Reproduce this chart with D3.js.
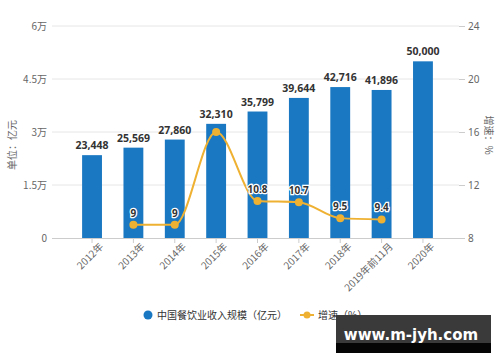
<!DOCTYPE html>
<html>
<head>
<meta charset="utf-8">
<script src="https://cdn.jsdelivr.net/npm/d3@7"></script>
<style>
  body { margin: 0; background: #fff; }
  svg text { font-family: "Noto Sans CJK SC", "Noto Sans", sans-serif; }
</style>
</head>
<body>
<svg id="chart" width="500" height="362"></svg>
<script>
const categories = ["2012年", "2013年", "2014年", "2015年", "2016年", "2017年", "2018年", "2019年前11月", "2020年"];
const revenue = [23448, 25569, 27860, 32310, 35799, 39644, 42716, 41896, 50000];
// growth has no value for 2012 / 2020
const growth = [null, 9, 9, 16, 10.8, 10.7, 9.5, 9.4, null];
const growthLabels = [null, "9", "9", null, "10.8", "10.7", "9.5", "9.4", null];
const leftTicks = [0, 15000, 30000, 45000, 60000];
const leftTickText = ["0", "1.5万", "3万", "4.5万", "6万"];
const rightTicks = [8, 12, 16, 20, 24];

const barColor = "#1a78c2";
const lineColor = "#efb132";

const svg = d3.select("#chart");
const plot = {left: 52, right: 459, top: 26, bottom: 238};

const x = d3.scaleBand().domain(categories).range([60.6, 454.4]).padding(0.52);
const yL = d3.scaleLinear().domain([0, 60000]).range([plot.bottom, plot.top]);
const yR = d3.scaleLinear().domain([8, 24]).range([plot.bottom, plot.top]);

// gridlines
svg.append("g").selectAll("line").data(leftTicks.slice(1)).enter().append("line")
    .attr("x1", plot.left).attr("x2", plot.right)
    .attr("y1", d => yL(d)).attr("y2", d => yL(d))
    .attr("stroke", "#e6e6e6").attr("stroke-width", 1);

// left axis labels
svg.append("g").selectAll("text").data(leftTicks).enter().append("text")
    .attr("x", 47).attr("y", d => yL(d) + 4)
    .attr("text-anchor", "end").attr("font-size", 10).attr("fill", "#666")
    .text((d, i) => leftTickText[i]);

// right axis
let rAxis = d3.axisRight(yR).tickValues(rightTicks).tickSize(6).tickPadding(3);
svg.append("g").attr("transform", `translate(${plot.right},0)`)
    .call(rAxis)
    .call(g => g.select(".domain").remove())
    .call(g => g.selectAll("line").attr("stroke", "#ccc"))
    .call(g => g.selectAll("text").attr("fill", "#666").attr("font-size", 10)
        .style("font-family", "'Noto Sans', sans-serif"));

// axis titles
svg.append("text").attr("transform", "translate(16,145) rotate(-90)")
    .attr("text-anchor", "middle").attr("font-size", 10).attr("fill", "#666").text("单位：亿元");
svg.append("text").attr("transform", "translate(485,135) rotate(90)")
    .attr("text-anchor", "middle").attr("font-size", 10).attr("fill", "#666").text("增速：%");

// bars
svg.append("g").selectAll("rect").data(revenue).enter().append("rect")
    .attr("x", (d, i) => x(categories[i]))
    .attr("y", d => yL(d))
    .attr("width", x.bandwidth())
    .attr("height", d => plot.bottom - yL(d))
    .attr("fill", barColor);

// bar labels
svg.append("g").selectAll("text").data(revenue).enter().append("text")
    .attr("x", (d, i) => x(categories[i]) + x.bandwidth() / 2)
    .attr("y", d => yL(d) - 6)
    .attr("text-anchor", "middle").attr("font-size", 10.5).attr("font-weight", "bold")
    .attr("fill", "#333").style("font-family", "'Noto Sans', sans-serif")
    .text(d => d3.format(",")(d));

// bottom axis
let xAxis = d3.axisBottom(x).tickSize(5).tickPadding(4);
svg.append("g").attr("transform", `translate(0,${plot.bottom})`)
    .call(xAxis)
    .call(g => g.select(".domain").attr("d", `M${plot.left},0.5H${plot.right}`).attr("stroke", "#ccc"))
    .call(g => g.selectAll(".tick line").attr("stroke", "#ccc"))
    .call(g => g.selectAll("text")
        .attr("fill", "#666").attr("font-size", 10)
        .attr("text-anchor", "end")
        .attr("dx", "0.2em").attr("dy", "0.6em")
        .attr("transform", "rotate(-45)"));

// growth line
const pts = growth.map((d, i) => ({v: d, c: categories[i], l: growthLabels[i]})).filter(d => d.v !== null);
const line = d3.line()
    .x(d => x(d.c) + x.bandwidth() / 2)
    .y(d => yR(d.v))
    .curve(d3.curveMonotoneX);
svg.append("path").datum(pts).attr("d", line)
    .attr("fill", "none").attr("stroke", lineColor).attr("stroke-width", 2);
svg.append("g").selectAll("circle").data(pts).enter().append("circle")
    .attr("cx", d => x(d.c) + x.bandwidth() / 2).attr("cy", d => yR(d.v))
    .attr("r", 4).attr("fill", lineColor);

let gl = svg.append("g").selectAll("text").data(pts.filter(d => d.l)).enter().append("text")
    .attr("x", d => x(d.c) + x.bandwidth() / 2)
    .attr("y", d => yR(d.v) - 8)
    .attr("text-anchor", "middle").attr("font-size", 10).attr("font-weight", "bold")
    .style("font-family", "'Noto Sans', sans-serif")
    .attr("fill", "#333").attr("stroke", "#fff").attr("stroke-width", 2.5)
    .attr("paint-order", "stroke")
    .text(d => d.l);

// legend
const legend = svg.append("g");
legend.append("circle").attr("cx", 148).attr("cy", 315).attr("r", 4.5).attr("fill", barColor);
legend.append("text").attr("x", 157).attr("y", 319).attr("font-size", 10).attr("fill", "#333")
    .text("中国餐饮业收入规模（亿元）");
legend.append("line").attr("x1", 300).attr("x2", 314).attr("y1", 315).attr("y2", 315)
    .attr("stroke", lineColor).attr("stroke-width", 2);
legend.append("circle").attr("cx", 307).attr("cy", 315).attr("r", 3.5).attr("fill", lineColor);
legend.append("text").attr("x", 318).attr("y", 319).attr("font-size", 10).attr("fill", "#333")
    .text("增速（%）");

// source overlay
svg.append("text").attr("x", 488).attr("y", 336).attr("text-anchor", "end")
    .attr("font-size", 9).attr("fill", "#888").text("@前瞻经济学人APP");
svg.append("rect").attr("x", 336).attr("y", 315).attr("width", 155).attr("height", 28)
    .attr("fill", "#3a3a3a");
svg.append("rect").attr("x", 336).attr("y", 343).attr("width", 155).attr("height", 10)
    .attr("fill", "#050505");
svg.append("text").attr("x", 411).attr("y", 340).attr("text-anchor", "middle")
    .attr("font-size", 15).attr("font-weight", "bold").attr("fill", "#fff")
    .style("font-family", "'DejaVu Sans', sans-serif")
    .text("www.m-jyh.com");
</script>
</body>
</html>
